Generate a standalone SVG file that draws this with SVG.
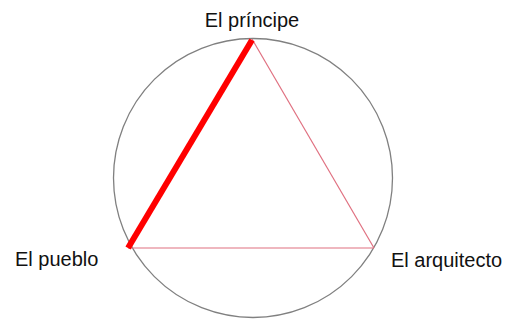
<svg xmlns="http://www.w3.org/2000/svg" width="507" height="320" viewBox="0 0 507 320">
<style>
.lbl{font-family:"Liberation Sans",Arial,sans-serif;font-size:20px;fill:#111}
.thin{stroke:#e07080;stroke-width:1.2;fill:none}
</style>
<rect width="507" height="320" fill="#fff"/>
<g id="circle"><circle cx="253" cy="178" r="139.5" fill="none" stroke="#808080" stroke-width="1.3"/></g>
<g id="connectors">
<line class="thin" x1="252" y1="39" x2="374" y2="248"/>
<line class="thin" x1="128" y1="248" x2="374" y2="248"/>
<line x1="252" y1="40" x2="128" y2="248" stroke="#ff0000" stroke-width="6"/>
</g>
<g id="principe"><text class="lbl" x="252" y="27" text-anchor="middle">El príncipe</text></g>
<g id="pueblo"><text class="lbl" x="15" y="266">El pueblo</text></g>
<g id="arquitecto"><text class="lbl" x="391" y="267">El arquitecto</text></g>
</svg>
